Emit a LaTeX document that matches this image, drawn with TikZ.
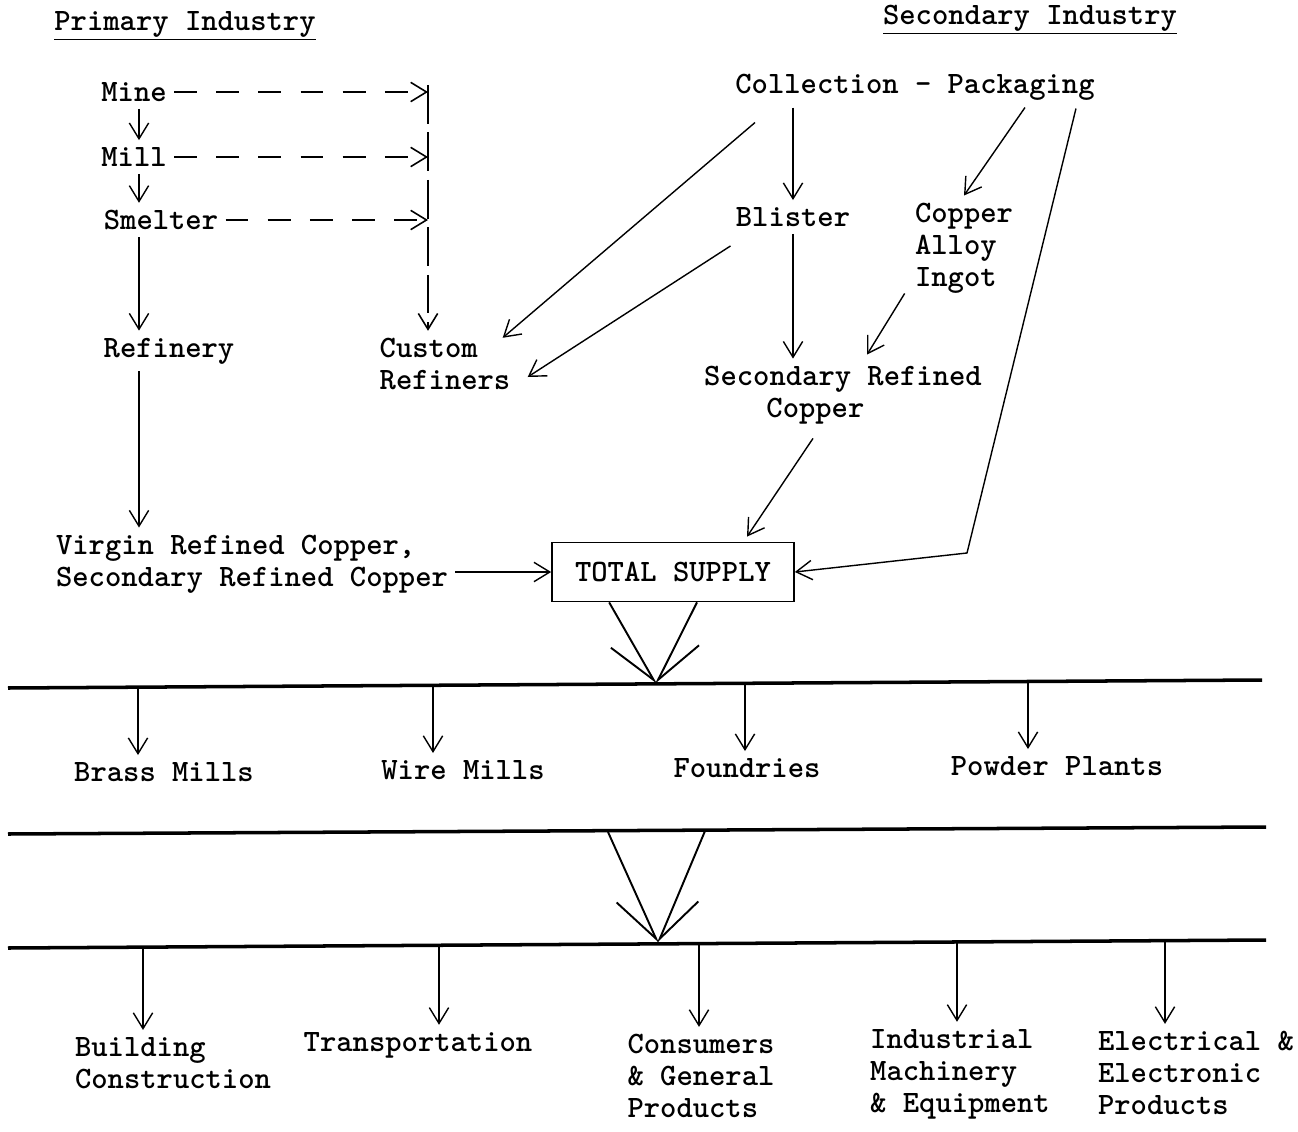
\documentclass[tikz,border=0pt]{standalone}
\usetikzlibrary{arrows.meta}
\begin{document}
\begin{tikzpicture}[
    x=0.02cm, y=-0.02cm,
    >={Straight Barb[length=9pt,width=11pt]},
    txt/.style={font=\fontsize{17.7}{18.2}\selectfont\ttfamily\bfseries, inner sep=4pt, align=left},
    link/.style={line width=0.8pt, ->},
    dlink/.style={line width=0.9pt, dash pattern=on 13pt off 11pt, ->},
    vlink/.style={line width=0.9pt, dash pattern=on 22pt off 5pt, ->},
    bar/.style={line width=2pt},
    bigleft/.style={line width=1.1pt, -{Straight Barb[length=28pt,width=24pt,harpoon,swap]}},
    bigright/.style={line width=1.1pt, -{Straight Barb[length=28pt,width=24pt,harpoon]}}
]
  \useasboundingbox (0,0) rectangle (1298,1132);

  % Headings
  \node[txt] (primary) at (185,26) {\underline{Primary Industry}};
  \node[txt] (secondary) at (1030,20) {\underline{Secondary Industry}};

  % Primary industry
  \node[txt] (mine) at (134,92) {Mine};
  \node[txt] (mill) at (134,157) {Mill};
  \node[txt] (smelter) at (161,220) {Smelter};
  \node[txt] (refinery) at (169,351) {Refinery};
  \node[txt] (custom) at (445,364) {Custom\\Refiners};
  \node[txt] (virgin) at (252,564) {Virgin Refined Copper,\\Secondary Refined Copper};
  \node[txt, draw, line width=1pt, minimum width=4.84cm, minimum height=1.18cm, align=center] (supply) at (673,572) {TOTAL SUPPLY};

  % Secondary industry
  \node[txt] (collect) at (915,87) {Collection - Packaging};
  \node[txt] (blister) at (793,217) {Blister};
  \node[txt] (ingot) at (964,248) {Copper\\Alloy\\Ingot};
  \node[txt] (secref) at (843,395) {Secondary Refined\\\hspace*{2em}Copper};

  % Fabricators
  \node[txt] (brass) at (164,772) {Brass Mills};
  \node[txt] (wire) at (463,770) {Wire Mills};
  \node[txt] (foundry) at (747,768) {Foundries};
  \node[txt] (powder) at (1057,766) {Powder Plants};

  % End use
  \node[txt] (building) at (173,1063) {Building\\Construction};
  \node[txt] (transport) at (418,1045) {Transportation};
  \node[txt] (consumer) at (701,1076) {Consumers\\\& General\\Products};
  \node[txt] (machinery) at (960,1074) {Industrial\\Machinery\\\& Equipment};
  \node[txt] (electrical) at (1196,1073) {Electrical \&\\Electronic\\Products};

  % Mine to refinery
  \coordinate (colA) at (139,0);
  \draw[link] (colA |- mine.south) -- (colA |- mill.north);
  \draw[link] (colA |- mill.south) -- (colA |- smelter.north);
  \draw[link] (colA |- smelter.south) -- (colA |- refinery.north);
  \draw[link] (colA |- refinery.south) -- (colA |- virgin.north);
  \draw[link] (virgin.east |- supply) -- (supply);

  % Custom refiners
  \coordinate (dtop) at (428,85);
  \draw[dlink] (mine) -- (mine -| dtop);
  \draw[dlink] (mill) -- (mill -| dtop);
  \draw[dlink] (smelter) -- (smelter -| dtop);
  \draw[vlink] (dtop) -- (dtop |- custom.north);

  % Scrap flows
  \draw[link] (blister |- collect.south) -- (blister);
  \draw[link] (blister) -- (blister |- secref.north);
  \draw[link] ([shift={(27,15)}]collect.south west) -- ([shift={(-15,7)}]custom.north east);
  \draw[link] ([shift={(2,12)}]blister.south west) -- ([shift={(10,13)}]custom.east);
  \draw[link] ([shift={(-77,0)}]collect.south east) -- (ingot.north);
  \draw[link] ([shift={(-3,-7)}]ingot.south west) -- ([shift={(24,-4)}]secref.north);
  \coordinate (bend) at (967,553);
  \draw[link] ([shift={(-26,1)}]collect.south east) -- (bend) -- (supply.east);
  \draw[link] ([shift={(-30,7)}]secref.south) -- ([shift={(74,-5)}]supply.north);

  % Bars
  \coordinate (bar1w) at (8,688);
  \coordinate (bar1e) at (1262,680);
  \coordinate (bar2w) at (8,834);
  \coordinate (bar2e) at (1266,827);
  \coordinate (bar3w) at (8,948);
  \coordinate (bar3e) at (1266,940);
  \draw[bar] (bar1w) -- (bar1e);
  \draw[bar] (bar2w) -- (bar2e);
  \draw[bar] (bar3w) -- (bar3e);

  \coordinate (hub1) at (656,684);
  \coordinate (hub2) at (658,943);
  \coordinate (fork2a) at (608,832);
  \coordinate (fork2b) at (705,831);
  \draw[bigleft] ([shift={(58,0)}]supply.south west) -- (hub1);
  \draw[bigright] ([shift={(24,0)}]supply.south) -- (hub1);
  \draw[bigleft] (fork2a) -- (hub2);
  \draw[bigright] (fork2b) -- (hub2);

  % Drops to fabricators
  \coordinate (drop1) at (138,687);
  \coordinate (drop2) at (433,685);
  \coordinate (drop3) at (745,683);
  \coordinate (drop4) at (1028,681);
  \draw[link] (drop1) -- (drop1 |- brass.north);
  \draw[link] (drop2) -- (drop2 |- wire.north);
  \draw[link] (drop3) -- (drop3 |- foundry.north);
  \draw[link] (drop4) -- (drop4 |- powder.north);

  % Drops to end use
  \coordinate (drop5) at (143,947);
  \coordinate (drop6) at (439,945);
  \coordinate (drop7) at (699,944);
  \coordinate (drop8) at (957,942);
  \coordinate (drop9) at (1165,941);
  \draw[link] (drop5) -- (drop5 |- building.north);
  \draw[link] (drop6) -- (drop6 |- transport.north);
  \draw[link] (drop7) -- (drop7 |- consumer.north);
  \draw[link] (drop8) -- (drop8 |- machinery.north);
  \draw[link] (drop9) -- (drop9 |- electrical.north);
\end{tikzpicture}
\end{document}
